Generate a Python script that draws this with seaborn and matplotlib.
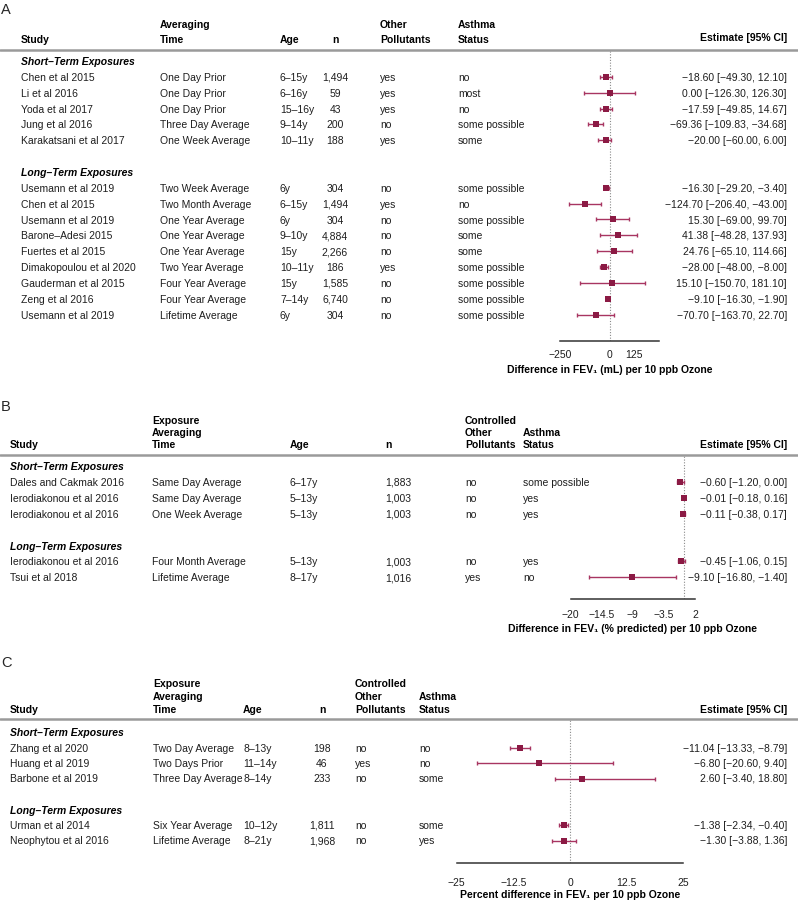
import numpy as np
import pandas as pd
import matplotlib
import matplotlib.pyplot as plt
import seaborn as sns
from matplotlib.lines import Line2D
from matplotlib.transforms import blended_transform_factory

# ---- panel A: FEV1 (mL) ----
A_study = ['Chen et al 2015', 'Li et al 2016', 'Yoda et al 2017', 'Jung et al 2016', 'Karakatsani et al 2017',
           'Usemann et al 2019', 'Chen et al 2015', 'Usemann et al 2019', 'Barone–Adesi 2015', 'Fuertes et al 2015',
           'Dimakopoulou et al 2020', 'Gauderman et al 2015', 'Zeng et al 2016', 'Usemann et al 2019']
A_term = ['short'] * 5 + ['long'] * 9
A_time = ['One Day Prior', 'One Day Prior', 'One Day Prior', 'Three Day Average', 'One Week Average',
          'Two Week Average', 'Two Month Average', 'One Year Average', 'One Year Average', 'One Year Average',
          'Two Year Average', 'Four Year Average', 'Four Year Average', 'Lifetime Average']
A_age = ['6–15y', '6–16y', '15–16y', '9–14y', '10–11y', '6y', '6–15y', '6y', '9–10y', '15y', '10–11y', '15y', '7–14y', '6y']
A_n = [1494, 59, 43, 200, 188, 304, 1494, 304, 4884, 2266, 186, 1585, 6740, 304]
A_poll = ['yes', 'yes', 'yes', 'no', 'yes', 'no', 'yes', 'no', 'no', 'no', 'yes', 'no', 'no', 'no']
A_asthma = ['no', 'most', 'no', 'some possible', 'some', 'some possible', 'no', 'some possible', 'some', 'some',
            'some possible', 'some possible', 'some possible', 'some possible']
A_est = [-18.60, 0.00, -17.59, -69.36, -20.00, -16.30, -124.70, 15.30, 41.38, 24.76, -28.00, 15.10, -9.10, -70.70]
A_lo = [-49.30, -126.30, -49.85, -109.83, -60.00, -29.20, -206.40, -69.00, -48.28, -65.10, -48.00, -150.70, -16.30, -163.70]
A_hi = [12.10, 126.30, 14.67, -34.68, 6.00, -3.40, -43.00, 99.70, 137.93, 114.66, -8.00, 181.10, -1.90, 22.70]
A_ticks = [-250, -125, 0, 125, 250]
A_ticklabels = ['−250', '', '0', '125', '']

# ---- panel B: FEV1 (% predicted) ----
B_study = ['Dales and Cakmak 2016', 'Ierodiakonou et al 2016', 'Ierodiakonou et al 2016',
           'Ierodiakonou et al 2016', 'Tsui et al 2018']
B_term = ['short'] * 3 + ['long'] * 2
B_time = ['Same Day Average', 'Same Day Average', 'One Week Average', 'Four Month Average', 'Lifetime Average']
B_age = ['6–17y', '5–13y', '5–13y', '5–13y', '8–17y']
B_n = [1883, 1003, 1003, 1003, 1016]
B_poll = ['no', 'no', 'no', 'no', 'yes']
B_asthma = ['some possible', 'yes', 'yes', 'yes', 'no']
B_est = [-0.60, -0.01, -0.11, -0.45, -9.10]
B_lo = [-1.20, -0.18, -0.38, -1.06, -16.80]
B_hi = [0.00, 0.16, 0.17, 0.15, -1.40]
B_ticks = [-20, -14.5, -9, -3.5, 2]
B_ticklabels = ['−20', '−14.5', '−9', '−3.5', '2']

# ---- panel C: percent difference ----
C_study = ['Zhang et al 2020', 'Huang et al 2019', 'Barbone et al 2019', 'Urman et al 2014', 'Neophytou et al 2016']
C_term = ['short'] * 3 + ['long'] * 2
C_time = ['Two Day Average', 'Two Days Prior', 'Three Day Average', 'Six Year Average', 'Lifetime Average']
C_age = ['8–13y', '11–14y', '8–14y', '10–12y', '8–21y']
C_n = [198, 46, 233, 1811, 1968]
C_poll = ['no', 'yes', 'no', 'no', 'no']
C_asthma = ['no', 'no', 'some', 'some', 'yes']
C_est = [-11.04, -6.80, 2.60, -1.38, -1.30]
C_lo = [-13.33, -20.60, -3.40, -2.34, -3.88]
C_hi = [-8.79, 9.40, 18.80, -0.40, 1.36]
C_ticks = [-25, -12.5, 0, 12.5, 25]
C_ticklabels = ['−25', '−12.5', '0', '12.5', '25']

sns.set_style('white')
plt.rcParams['font.family'] = ['Liberation Sans', 'DejaVu Sans']

W, H = 798, 901
fig = plt.figure(figsize=(W / 100, H / 100), dpi=100)

sq_col = '#8b1a44'
ci_col = '#a83561'
txt_col = '#1e1e1e'
FS = 7.5


def num(v):
    return f'{v:.2f}'.replace('-', '−')


def draw_panel(cfg, study, term, time, age, n, poll, asthma, est, lo, hi, ticks, ticklabels):
    left, right, top, bottom = cfg['box']
    row0, sp = cfg['row0'], cfg['sp']
    ax = fig.add_axes([left / W, 1 - bottom / H, (right - left) / W, (bottom - top) / H])

    ns = term.count('short')
    rows = [i + 1 if t == 'short' else i + 3 for i, t in enumerate(term)]
    df = pd.DataFrame({'row': rows, 'est': est, 'lo': lo, 'hi': hi})

    ax.axvline(0, ls=(0, (1, 1.5)), color='#8a8a8a', lw=0.8, zorder=1)
    ax.errorbar(df['est'], df['row'], xerr=[df['est'] - df['lo'], df['hi'] - df['est']],
                fmt='none', ecolor=ci_col, elinewidth=1, capsize=1.6, capthick=1, zorder=2)
    sns.scatterplot(data=df, x='est', y='row', marker='s', s=14, color=sq_col,
                    linewidth=0, ax=ax, zorder=3)

    ax.set_xlim(ticks[0], ticks[-1])
    ax.set_ylim((bottom - row0) / sp, (top - row0) / sp)
    for s in ['top', 'left', 'right']:
        ax.spines[s].set_visible(False)
    ax.spines['bottom'].set_color('#333333')
    ax.spines['bottom'].set_linewidth(1.1)
    ax.patch.set_alpha(0)
    ax.set_yticks([])
    ax.set_xticks(ticks)
    ax.set_xticklabels(ticklabels)
    ax.tick_params(axis='x', length=3.2, width=1.1, color='#333333', labelsize=FS,
                   labelcolor=txt_col, pad=cfg['pad'])
    ax.set_xlabel('')
    ax.set_ylabel('')

    tr = blended_transform_factory(fig.transFigure, ax.transData)
    cols = cfg['cols']
    bi = dict(fontsize=FS, weight='bold', style='italic', va='center_baseline', transform=tr, color='black')
    ax.text(cols['study'] / W, 0, 'Short–Term Exposures', **bi)
    ax.text(cols['study'] / W, ns + 2, 'Long–Term Exposures', **bi)

    kw = dict(fontsize=FS, va='center_baseline', transform=tr, color=txt_col)
    for i, r in enumerate(rows):
        ax.text(cols['study'] / W, r, study[i], **kw)
        ax.text(cols['time'] / W, r, time[i], **kw)
        ax.text(cols['age'] / W, r, age[i], **kw)
        ax.text(cols['n'] / W, r, f'{n[i]:,}', ha=cfg['n_ha'], **kw)
        ax.text(cols['poll'] / W, r, poll[i], **kw)
        ax.text(cols['asthma'] / W, r, asthma[i], **kw)
        ax.text(787 / W, r, f'{num(est[i])} [{num(lo[i])}, {num(hi[i])}]', ha='right', **kw)

    # column headers
    hk = dict(fontsize=FS, weight='bold', va='center_baseline', color='black')
    for key, lines, ha in cfg['headers']:
        x = cols[key]
        for j, line in enumerate(lines[::-1]):
            fig.text(x / W, 1 - (cfg['hy'] - j * cfg['hsp']) / H, line, ha=ha, **hk)
    fig.text(787 / W, 1 - cfg['est_y'] / H, 'Estimate [95% CI]', ha='right', **hk)

    fig.add_artist(Line2D([0, 1], [1 - top / H, 1 - top / H], transform=fig.transFigure,
                          color='#9a9a9a', lw=1.8))
    fig.text((left + right) / 2 / W, 1 - cfg['title_y'] / H, cfg['title'], ha='center', va='center',
             fontsize=FS, weight='bold', color='black')
    fig.text(1 / W, 1 - cfg['letter_y'] / H, cfg['letter'], ha='left', va='center', fontsize=10.5)
    return ax


cfgA = dict(box=(560, 659, 50, 341), row0=61, sp=15.85, pad=3.0, n_ha='center',
            cols=dict(study=21, time=160, age=280, n=335, poll=380, asthma=458),
            headers=[('study', ['Study'], 'left'), ('time', ['Averaging', 'Time'], 'left'),
                     ('age', ['Age'], 'left'), ('n', ['n'], 'center'),
                     ('poll', ['Other', 'Pollutants'], 'left'), ('asthma', ['Asthma', 'Status'], 'left')],
            hy=39, hsp=15, est_y=37, title_y=370, letter_y=10, letter='A',
            title='Difference in FEV₁ (mL) per 10 ppb Ozone')
cfgB = dict(box=(570.7, 695, 455, 599), row0=466, sp=15.9, pad=5.0, n_ha='left',
            cols=dict(study=10, time=152, age=290, n=385, poll=465, asthma=523),
            headers=[('study', ['Study'], 'left'), ('time', ['Exposure', 'Averaging', 'Time'], 'left'),
                     ('age', ['Age'], 'left'), ('n', ['n'], 'left'),
                     ('poll', ['Controlled', 'Other', 'Pollutants'], 'left'),
                     ('asthma', ['Asthma', 'Status'], 'left')],
            hy=444, hsp=12, est_y=444, title_y=629, letter_y=407, letter='B',
            title='Difference in FEV₁ (% predicted) per 10 ppb Ozone')
cfgC = dict(box=(456.7, 683.3, 719, 863), row0=732, sp=15.5, pad=7.5, n_ha='center',
            cols=dict(study=10, time=153, age=243, n=322, poll=355, asthma=419),
            headers=[('study', ['Study'], 'left'), ('time', ['Exposure', 'Averaging', 'Time'], 'left'),
                     ('age', ['Age'], 'left'), ('n', ['n'], 'center'),
                     ('poll', ['Controlled', 'Other', 'Pollutants'], 'left'),
                     ('asthma', ['Asthma', 'Status'], 'left')],
            hy=709, hsp=13, est_y=709, title_y=894.5, letter_y=663, letter='C',
            title='Percent difference in FEV₁ per 10 ppb Ozone')

draw_panel(cfgA, A_study, A_term, A_time, A_age, A_n, A_poll, A_asthma, A_est, A_lo, A_hi, A_ticks, A_ticklabels)
draw_panel(cfgB, B_study, B_term, B_time, B_age, B_n, B_poll, B_asthma, B_est, B_lo, B_hi, B_ticks, B_ticklabels)
draw_panel(cfgC, C_study, C_term, C_time, C_age, C_n, C_poll, C_asthma, C_est, C_lo, C_hi, C_ticks, C_ticklabels)

plt.savefig('out.png', dpi=100)
